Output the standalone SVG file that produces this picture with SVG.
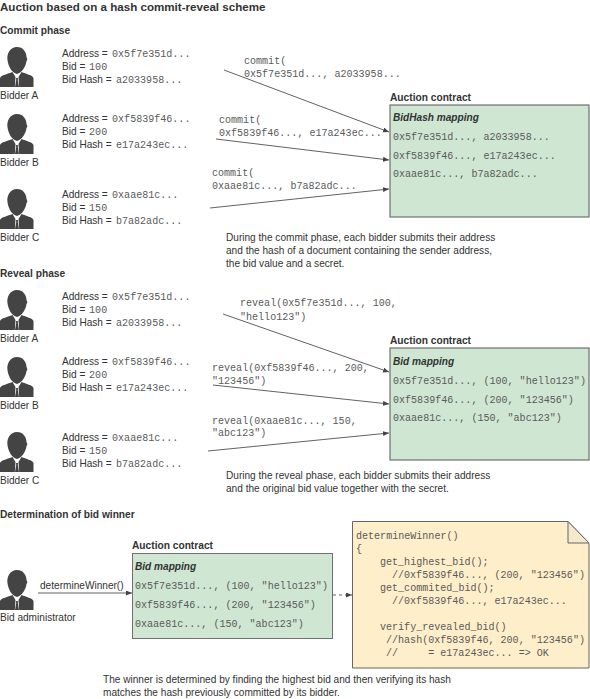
<svg xmlns="http://www.w3.org/2000/svg" width="590" height="699" viewBox="0 0 590 699">
<style>
text{font-family:"Liberation Sans",Arial,sans-serif;font-size:10.1px;fill:#333;white-space:pre}
.h{font-weight:bold;font-size:10.2px}
.t{font-weight:bold;font-size:11.6px}
.i{font-weight:bold;font-style:italic;font-size:10.1px}
.m{font-family:"Liberation Mono","Courier New",monospace;font-size:10.05px;fill:#5a5a5a}
.n{fill:#cfe6d3;stroke:#707070;stroke-width:1.2}
.c{fill:none;stroke:#505050;stroke-width:.9;marker-end:url(#a)}
.d{stroke-dasharray:3 3}
</style>
<defs>
<marker id="a" markerUnits="userSpaceOnUse" markerWidth="8" markerHeight="6" refX="6" refY="2.5" orient="auto"><path d="M0 0L6 2.5L0 5Z" fill="#444"/></marker>
<g id="p">
<path d="M17 47C23 47 26.500 52 26.500 57C27 58 28 60 26.500 61C26 66 22 73 17 74C12 73 8 66 7.500 60C6.500 54 10 47 17 47Z" fill="#444"/>
<path d="M0 87V78C1 75 8 74 12.500 72L15.500 77L14.800 87ZM33.500 87V78C32.500 75 26 74 21.500 72L18.500 77L19.200 87ZM16 78H18L17.800 80L19 87H15L16.200 80Z" fill="#444"/>
</g>
</defs>
<text class="t" x="0" y="10.600">Auction based on a hash commit-reveal scheme</text>
<text class="h" x="0" y="34">Commit phase</text>
<g id="bidder-a1"><use href="#p"/><text x="0" y="99">Bidder A</text>
<text x="62" y="57">Address = <tspan class="m" dx="1.500">0x5f7e351d...</tspan></text><text x="62" y="70">Bid = <tspan class="m" dx="1">100</tspan></text><text x="62" y="83">Bid Hash = <tspan class="m" dx="1.500">a2033958...</tspan></text></g>
<g id="bidder-b1"><use href="#p" y="67"/><text x="0" y="166">Bidder B</text>
<text x="62" y="122">Address = <tspan class="m" dx="1.500">0xf5839f46...</tspan></text><text x="62" y="135">Bid = <tspan class="m" dx="1">200</tspan></text><text x="62" y="148">Bid Hash = <tspan class="m" dx="1.500">e17a243ec...</tspan></text></g>
<g id="bidder-c1"><use href="#p" y="142"/><text x="0" y="241">Bidder C</text>
<text x="62" y="198">Address = <tspan class="m" dx="1.500">0xaae81c...</tspan></text><text x="62" y="211">Bid = <tspan class="m" dx="1">150</tspan></text><text x="62" y="224">Bid Hash = <tspan class="m" dx="1.500">b7a82adc...</tspan></text></g>
<g id="connectors">
<path class="c" d="M224 70L389 132"/><path class="c" d="M216 139L389 160"/><path class="c" d="M210 208L389 189"/>
<path class="c" d="M223 314L389 372"/><path class="c" d="M213 385L389 404"/><path class="c" d="M208 451L389 433"/>
<path class="c" d="M38 593H132"/><path class="c d" d="M333 595H352"/>
</g>
<text class="m" x="244" y="64">commit(</text><text class="m" x="244" y="77">0x5f7e351d..., a2033958...</text>
<text class="m" x="219" y="123">commit(</text><text class="m" x="219" y="136">0xf5839f46..., e17a243ec...</text>
<text class="m" x="212" y="176">commit(</text><text class="m" x="212" y="189">0xaae81c..., b7a82adc...</text>
<g id="contract1"><text class="h" x="390" y="101">Auction contract</text><rect class="n" x="390" y="105" width="199" height="112"/>
<text class="i" x="393" y="121">BidHash mapping</text>
<text class="m" x="393" y="140">0x5f7e351d..., a2033958...</text><text class="m" x="393" y="159">0xf5839f46..., e17a243ec...</text><text class="m" x="393" y="177">0xaae81c..., b7a82adc...</text></g>
<text x="226" y="241">During the commit phase, each bidder submits their address</text>
<text x="226" y="254">and the hash of a document containing the sender address,</text>
<text x="226" y="267">the bid value and a secret.</text>
<text class="h" x="0" y="277">Reveal phase</text>
<g id="bidder-a2"><use href="#p" y="243"/><text x="0" y="342">Bidder A</text>
<text x="62" y="300">Address = <tspan class="m" dx="1.500">0x5f7e351d...</tspan></text><text x="62" y="313">Bid = <tspan class="m" dx="1">100</tspan></text><text x="62" y="326">Bid Hash = <tspan class="m" dx="1.500">a2033958...</tspan></text></g>
<g id="bidder-b2"><use href="#p" y="310"/><text x="0" y="409">Bidder B</text>
<text x="62" y="365">Address = <tspan class="m" dx="1.500">0xf5839f46...</tspan></text><text x="62" y="378">Bid = <tspan class="m" dx="1">200</tspan></text><text x="62" y="391">Bid Hash = <tspan class="m" dx="1.500">e17a243ec...</tspan></text></g>
<g id="bidder-c2"><use href="#p" y="385"/><text x="0" y="484">Bidder C</text>
<text x="62" y="441">Address = <tspan class="m" dx="1.500">0xaae81c...</tspan></text><text x="62" y="454">Bid = <tspan class="m" dx="1">150</tspan></text><text x="62" y="467">Bid Hash = <tspan class="m" dx="1.500">b7a82adc...</tspan></text></g>
<text class="m" x="240" y="306">reveal(0x5f7e351d..., 100,</text><text class="m" x="240" y="320">"hello123")</text>
<text class="m" x="212" y="371">reveal(0xf5839f46..., 200,</text><text class="m" x="212" y="384">"123456")</text>
<text class="m" x="212" y="424">reveal(0xaae81c..., 150,</text><text class="m" x="212" y="436">"abc123")</text>
<g id="contract2"><text class="h" x="390" y="344">Auction contract</text><rect class="n" x="390" y="348" width="199" height="112"/>
<text class="i" x="393" y="365">Bid mapping</text>
<text class="m" x="393" y="384">0x5f7e351d..., (100, "hello123")</text><text class="m" x="393" y="403">0xf5839f46..., (200, "123456")</text><text class="m" x="393" y="421">0xaae81c..., (150, "abc123")</text></g>
<text x="226" y="479">During the reveal phase, each bidder submits their address</text>
<text x="226" y="492">and the original bid value together with the secret.</text>
<text class="h" x="0" y="518">Determination of bid winner</text>
<g id="admin"><use href="#p" y="523"/><text x="0" y="621">Bid administrator</text></g>
<text x="40" y="589">determineWinner()</text>
<g id="contract3"><text class="h" x="132" y="549">Auction contract</text><rect class="n" x="132.500" y="553.500" width="200" height="85" style="stroke-width:1"/>
<text class="i" x="135" y="570">Bid mapping</text>
<text class="m" x="135" y="589">0x5f7e351d..., (100, "hello123")</text><text class="m" x="135" y="608">0xf5839f46..., (200, "123456")</text><text class="m" x="135" y="627">0xaae81c..., (150, "abc123")</text></g>
<g id="note"><path d="M352.500 521.500H568L589 543V668H352.500Z" fill="#feeec9" stroke="#666"/><path d="M568 521.500V543H589Z" fill="#f5e9cc" stroke="#666"/>
<text class="m" x="356" y="539">determineWinner()</text><text class="m" x="356" y="552">{</text>
<text class="m" x="380" y="565">get_highest_bid();</text><text class="m" x="392" y="578">//0xf5839f46..., (200, "123456")</text>
<text class="m" x="380" y="591">get_commited_bid();</text><text class="m" x="392" y="604">//0xf5839f46..., e17a243ec...</text>
<text class="m" x="380" y="630">verify_revealed_bid()</text><text class="m" x="386" y="643">//hash(0xf5839f46, 200, "123456")</text><text class="m" x="386" y="656">//     = e17a243ec... =&gt; OK</text></g>
<text x="103" y="683">The winner is determined by finding the highest bid and then verifying its hash</text>
<text x="103" y="696">matches the hash previously committed by its bidder.</text>
</svg>
